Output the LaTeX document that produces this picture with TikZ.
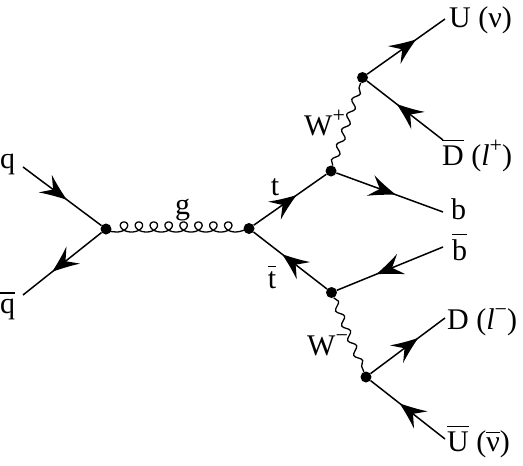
\documentclass[tikz,border=0pt]{standalone}
\usepackage{fontspec}
\setmainfont{Liberation Serif}
\usetikzlibrary{decorations.pathmorphing,decorations.markings}
\newcommand\ob[2][4pt]{\vbox{\hrule height 1.4pt\kern#1\hbox{#2}}}
\newcommand\sups[1]{\raisebox{0.42em}{\fontsize{22}{22}\selectfont #1}}
\begin{document}
\begin{tikzpicture}[x=1pt,y=-1pt,
  every node/.style={font=\fontsize{30}{35}\selectfont, inner sep=0pt},
  dot/.style={circle,fill=black,inner sep=0pt,minimum size=11pt},
  fermion/.style={line width=1.5pt, postaction={decorate},
    decoration={markings, mark=at position #1 with {%
      \fill (1,0) .. controls (-9,-3.4) and (-18,-7) .. (-26,-11)
        .. controls (-22,-6.5) and (-18,-2) .. (-16,0)
        .. controls (-18,2) and (-22,6.5) .. (-26,11)
        .. controls (-18,7) and (-9,3.4) .. (1,0) -- cycle;}}},
  fermion/.default=0.58,
  photon/.style={line width=1.3pt, decorate, decoration={snake, amplitude=3.2pt, segment length=16pt}},
  gluonline/.style={line width=1.3pt}]
\useasboundingbox (0,0) rectangle (523,466);
% vertices
\node[dot] (V1) at (106,229) {};
\node[dot] (V2) at (249,228.5) {};
\node[dot] (V3) at (331,171) {};
\node[dot] (V4) at (331.5,292.5) {};
\node[dot] (V5) at (362.5,77.5) {};
\node[dot] (V6) at (366,377) {};
% external ends
\coordinate (eq) at (23,167);
\coordinate (eqb) at (23,295);
\coordinate (eU) at (445,19);
\coordinate (eDb) at (443,140);
\coordinate (eb) at (443,212);
\coordinate (ebb) at (443,247);
\coordinate (eD) at (445,318);
\coordinate (eUb) at (445,439);
% lines
\draw[fermion=0.55] (eq) -- (V1);
\draw[fermion=0.62] (V1) -- (eqb);
\draw[gluonline, shift={(V1.center)}] (0,0) .. controls (5,3) and (7,3) .. (10.55,3)
  -- plot[domain=-pi:15*pi, samples=481, variable=\t]
     ({18 + 2.37*\t - 7*sin(\t r)}, {3 - 5*(1+cos(\t r))})
  .. controls (134,3) and (138,1) .. (V2.center);
\draw[fermion=0.58] (V2) -- (V3);
\draw[fermion=0.6] (V4) -- (V2);
\draw[photon] (V3) -- (V5);
\draw[photon] (V4) -- (V6);
\draw[fermion=0.55] (V3) -- (eb);
\draw[fermion=0.62] (ebb) -- (V4);
\draw[fermion=0.62] (V5) -- (eU);
\draw[fermion=0.6] (eDb) -- (V5);
\draw[fermion=0.63] (V6) -- (eD);
\draw[fermion=0.6] (eUb) -- (V6);
% labels
\node[anchor=base] (lq) at (7.5,168) {q};
\node[anchor=base] (lqb) at (7.5,313) {\ob[5pt]{q}};
\node[anchor=base] (lg) at (182.5,214) {g};
\node[anchor=base] (lt) at (275,195) {t};
\node[anchor=base] (ltb) at (272,288) {\ob{t}};
\node[anchor=base west] (lWp) at (304,135) {W\sups{+}};
\node[anchor=base west] (lWm) at (307,355) {W\sups{−}};
\node[anchor=base west] (lU) at (449,27) {U (ν)};
\node[anchor=base west] (lDb) at (442,165) {\ob{D} (\textit{l}\sups{+})};
\node[anchor=base west] (lb) at (451,219) {b};
\node[anchor=base west] (lbb) at (452,260) {\ob{b}};
\node[anchor=base west] (lD) at (447,329) {D (\textit{l}\sups{−})};
\node[anchor=base west] (lUb) at (447,451) {\ob{U} (\ob{ν})};
\end{tikzpicture}
\end{document}
